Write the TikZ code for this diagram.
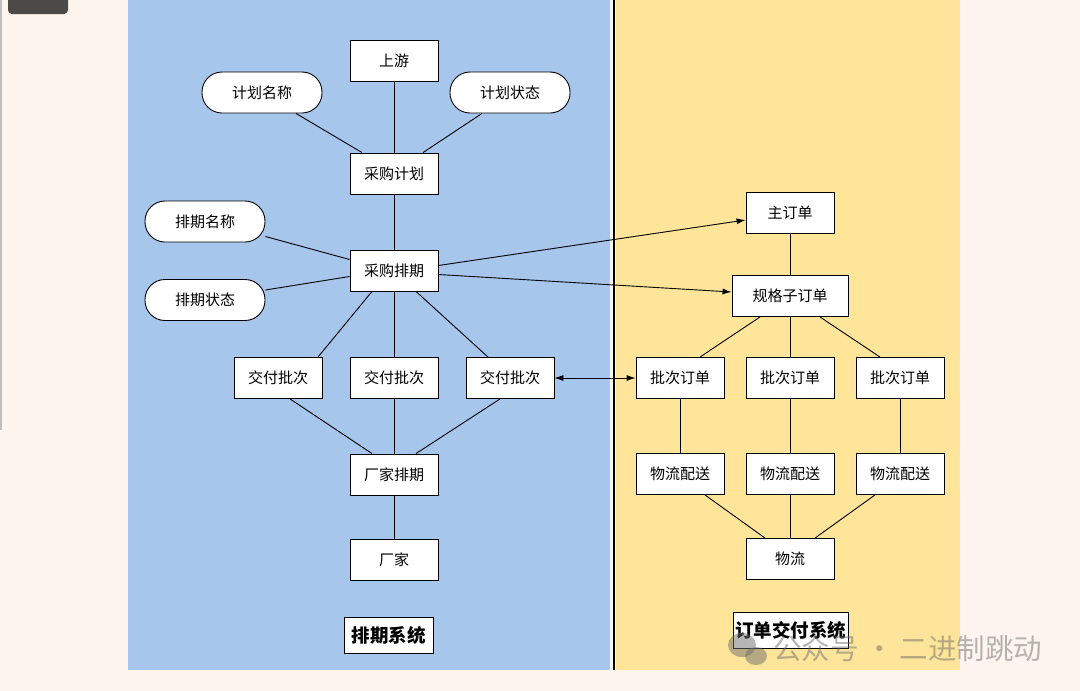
\documentclass[tikz,border=0pt]{standalone}
\usepackage{fontspec}
\setmainfont{Noto Sans CJK SC}
\usetikzlibrary{arrows.meta,calc}
\definecolor{bgc}{RGB}{254,246,238}
\definecolor{bluep}{RGB}{166,198,236}
\definecolor{yellp}{RGB}{254,229,154}
\definecolor{wmark}{RGB}{110,110,110}
\begin{document}
\begin{tikzpicture}[x=1pt,y=-1pt,
  box/.style={draw=black,fill=white,line width=0.9pt,minimum width=88pt,minimum height=41pt,inner sep=0pt,font=\fontsize{15}{17}\selectfont},
  wbox/.style={box,minimum width=116pt},
  pill/.style={box,minimum width=120pt,rounded corners=20pt},
  title/.style={draw=black,fill=white,line width=0.9pt,inner sep=1pt,minimum height=36pt,font=\fontsize{18.5}{20}\selectfont\bfseries},
  ln/.style={line width=0.9pt,draw=black},
  arr/.style={ln,-{Latex[length=9pt,width=6pt]}},
  darr/.style={ln,{Latex[length=9pt,width=6pt]}-{Latex[length=9pt,width=6pt]}}]
\useasboundingbox (0,0) rectangle (1080,691);
\fill[bgc] (0,0) rectangle (1080,691);
\draw[gray!50,line width=1.5pt] (1,0) -- (1,430);
\fill[black!70!bgc,rounded corners=4pt] (8,-8) rectangle (68,14);
% panels
\fill[bluep] (128,0) rectangle (610,670);
\fill[yellp] (616,0) rectangle (960,670);
\draw[line width=2.4pt] (614,0) -- (614,670);
% left nodes
\node[box]  (sy)   at (394,60.5)  {上游};
\node[pill] (jhmc) at (262,92.5)  {计划名称};
\node[pill] (jhzt) at (510,92.5)  {计划状态};
\node[box]  (cgjh) at (394,173.5) {采购计划};
\node[pill] (pqmc) at (205,221.5) {排期名称};
\node[box]  (cgpq) at (394,270.5) {采购排期};
\node[pill] (pqzt) at (205,300)   {排期状态};
\node[box]  (jf1)  at (278,378)   {交付批次};
\node[box]  (jf2)  at (394,378)   {交付批次};
\node[box]  (jf3)  at (510,378)   {交付批次};
\node[box]  (cjpq) at (394,474.5) {厂家排期};
\node[box]  (cj)   at (394,559.5) {厂家};
\node[title,minimum width=89pt] (t1) at (388.5,635) {排期系统};
% right nodes
\node[box]  (zdd)  at (790,213)   {主订单};
\node[wbox] (ggz)  at (790,296)   {规格子订单};
\node[box]  (pc1)  at (680,378)   {批次订单};
\node[box]  (pc2)  at (790,378)   {批次订单};
\node[box]  (pc3)  at (900,378)   {批次订单};
\node[box]  (wl1)  at (680,474)   {物流配送};
\node[box]  (wl2)  at (790,474)   {物流配送};
\node[box]  (wl3)  at (900,474)   {物流配送};
\node[box]  (wl)   at (790,559)   {物流};
\node[title,minimum width=115pt,inner sep=0pt] (t2) at (790.5,630) {订单交付系统};
% left edges
\draw[ln] (sy) -- (cgjh);
\draw[ln] ([xshift=34pt]jhmc.south) -- ([xshift=-32pt]cgjh.north);
\draw[ln] ([xshift=-28pt]jhzt.south) -- ([xshift=29pt]cgjh.north);
\draw[ln] (cgjh) -- (cgpq);
\draw[ln] ([yshift=-15pt]pqmc.east) -- ([yshift=11pt]cgpq.west);
\draw[ln] ([yshift=10pt]pqzt.east) -- ([yshift=-6pt]cgpq.west);
\draw[ln] ([xshift=-22pt]cgpq.south) -- ([xshift=40pt]jf1.north);
\draw[ln] (cgpq) -- (jf2);
\draw[ln] ([xshift=22pt]cgpq.south) -- ([xshift=-22pt]jf3.north);
\draw[ln] ([xshift=12pt]jf1.south) -- ([xshift=-22pt]cjpq.north);
\draw[ln] (jf2) -- (cjpq);
\draw[ln] ([xshift=-10pt]jf3.south) -- ([xshift=22pt]cjpq.north);
\draw[ln] (cjpq) -- (cj);
% cross edges
\draw[arr] ([yshift=5pt]cgpq.east) -- ([yshift=-7pt]zdd.west);
\draw[arr] ([yshift=-4pt]cgpq.east) -- ([yshift=4pt]ggz.west);
\draw[darr] (jf3) -- (pc1);
% right edges
\draw[ln] (zdd) -- (ggz);
\draw[ln] ([xshift=-30pt]ggz.south) -- ([xshift=20pt]pc1.north);
\draw[ln] (ggz) -- (pc2);
\draw[ln] ([xshift=30pt]ggz.south) -- ([xshift=-20pt]pc3.north);
\draw[ln] (pc1) -- (wl1);
\draw[ln] (pc2) -- (wl2);
\draw[ln] (pc3) -- (wl3);
\draw[ln] ([xshift=25pt]wl1.south) -- ([xshift=-25pt]wl.north);
\draw[ln] (wl2) -- (wl);
\draw[ln] ([xshift=-25pt]wl3.south) -- ([xshift=25pt]wl.north);
% watermark
\begin{scope}[opacity=0.5]
\fill[wmark] (742,645) ellipse (14pt and 12pt);
\fill[wmark] (756,656) ellipse (11pt and 9pt);
\node[text=wmark,font=\fontsize{28.5}{30}\selectfont,anchor=west,inner sep=0pt] (wm) at (773,649) {公众号 · 二进制跳动};
\end{scope}
\end{tikzpicture}
\end{document}
